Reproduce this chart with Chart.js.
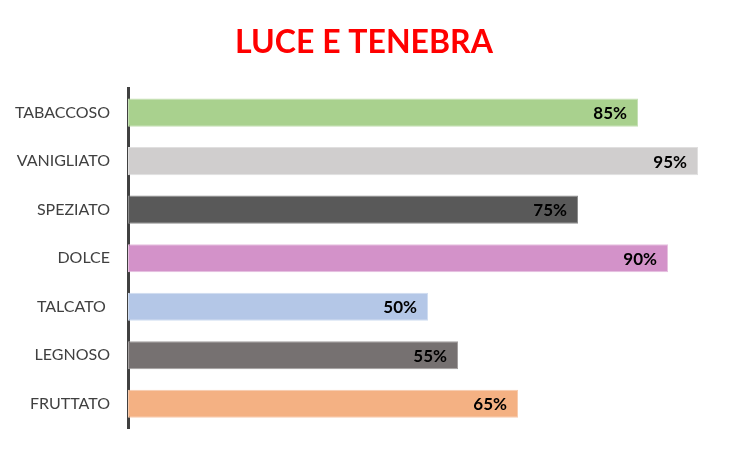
<!DOCTYPE html>
<html>
<head>
<meta charset="utf-8">
<script src="https://cdn.jsdelivr.net/npm/chart.js@4"></script>
<style>
    html, body { margin: 0; padding: 0; background: #fff; }
    #wrap { width: 752px; height: 452px; }
</style>
</head>
<body>
<div id="wrap"><canvas id="profumoChart"></canvas></div>
<script>
// Data
const categories = ['TABACCOSO', 'VANIGLIATO', 'SPEZIATO', 'DOLCE', 'TALCATO ', 'LEGNOSO', 'FRUTTATO'];
const values = [85, 95, 75, 90, 50, 55, 65];
const barColors = ['#A9D18E', '#D0CECE', '#595959', '#D392C9', '#B4C7E7', '#767171', '#F4B183'];
const barBorders = ['#C5E0B4', '#E0DFDF', '#8C8C8C', '#E6C0DF', '#D0DDF1', '#A29E9E', '#F8CBAD'];

// simple inline plugin for the percentage labels at the end of each bar
const valueLabels = {
    id: 'valueLabels',
    afterDatasetsDraw(chart) {
        const ctx = chart.ctx;
        const meta = chart.getDatasetMeta(0);
        ctx.save();
        ctx.font = 'bold 17px Lato';
        ctx.fillStyle = '#000';
        ctx.textAlign = 'right';
        ctx.textBaseline = 'middle';
        meta.data.forEach((bar, i) => {
            ctx.fillText(values[i] + '%', bar.x - 11, bar.y + 1);
        });
        ctx.restore();
    }
};

const ctx = document.getElementById('profumoChart').getContext('2d');
new Chart(ctx, {
    type: 'bar',
    data: {
        labels: categories,
        datasets: [{
            data: values,
            backgroundColor: barColors,
            borderColor: barBorders,
            borderWidth: 1,
            borderSkipped: false,
            categoryPercentage: 1,
            barPercentage: 0.58
        }]
    },
    options: {
        indexAxis: 'y',
        responsive: true,
        maintainAspectRatio: false,
        animation: false,
        layout: {
            padding: { left: 0, right: 24, bottom: 24, top: 0 }
        },
        plugins: {
            legend: { display: false },
            tooltip: { enabled: false },
            title: {
                display: true,
                text: 'LUCE E TENEBRA',
                color: '#FF0000',
                font: { family: 'Lato', size: 32, weight: 'bold' },
                padding: { top: 23, bottom: 27 }
            }
        },
        scales: {
            x: {
                display: false,
                min: 0,
                max: 100
            },
            y: {
                grid: { display: false },
                border: { display: true, color: '#404040', width: 3 },
                ticks: {
                    color: '#404040',
                    font: { family: 'Lato', size: 16 },
                    padding: 10
                },
                afterFit(scale) { scale.width = 128; }
            }
        }
    },
    plugins: [valueLabels]
});
</script>
</body>
</html>
